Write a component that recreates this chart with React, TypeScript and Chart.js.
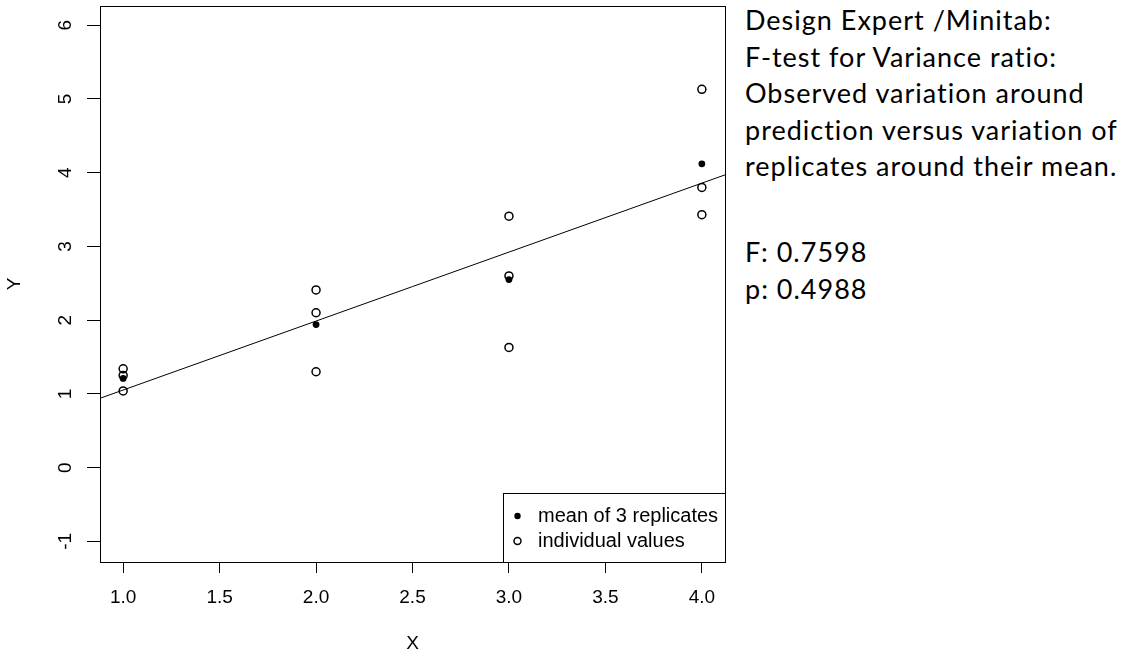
import React, { useEffect, useRef } from "react";
import { Chart, registerables } from "chart.js";

Chart.register(...registerables);

// ---- data ----
const meanX = [1, 2, 3, 4];
const meanY = [1.21, 1.94, 2.55, 4.12];
const indivX = [1, 1, 1, 2, 2, 2, 3, 3, 3, 4, 4, 4];
const indivY = [1.34, 1.25, 1.04, 2.41, 2.1, 1.3, 3.41, 2.6, 1.63, 5.13, 3.8, 3.43];
const fitX = [0.88, 4.12];
const fitY = [0.94, 3.97];
const xTicks = [1.0, 1.5, 2.0, 2.5, 3.0, 3.5, 4.0];
const yTicks = [-1, 0, 1, 2, 3, 4, 5, 6];
const legendLabels = ["mean of 3 replicates", "individual values"];
const noteLines = [
  "Design Expert /Minitab:",
  "F-test for Variance ratio:",
  "Observed variation around",
  "prediction versus variation of",
  "replicates around their mean.",
];
const statLines = ["F: 0.7598", "p: 0.4988"];

const AXIS_FONT = "Liberation Sans, Arial, sans-serif";
const AXIS_SIZE = 19;
const LEGEND_SIZE = 20;

const boxPlugin = {
  id: "rbox",
  afterDraw(chart: any) {
    const { ctx, chartArea } = chart;
    const { left, top, right, bottom } = chartArea;
    ctx.save();
    ctx.strokeStyle = "#000";
    ctx.lineWidth = 1;
    ctx.strokeRect(left + 0.5, top + 0.5, right - left, bottom - top);

    // rotated y tick labels (R style, parallel to axis)
    const yScale = chart.scales.y;
    ctx.fillStyle = "#000";
    ctx.font = `${AXIS_SIZE}px ${AXIS_FONT}`;
    ctx.textAlign = "center";
    ctx.textBaseline = "middle";
    yTicks.forEach((v) => {
      const py = yScale.getPixelForValue(v);
      ctx.save();
      ctx.translate(left - 34, py);
      ctx.rotate(-Math.PI / 2);
      ctx.fillText(String(v), 0, 0);
      ctx.restore();
    });

    // legend box, bottom-right of plot region
    const lw = 222;
    const lh = 69;
    const lx = right - lw;
    const ly = bottom - lh;
    ctx.fillStyle = "#fff";
    ctx.fillRect(lx, ly, lw, lh);
    ctx.strokeStyle = "#000";
    ctx.strokeRect(lx + 0.5, ly + 0.5, lw, lh);
    const rows = [ly + 23, ly + 48];
    ctx.fillStyle = "#000";
    ctx.beginPath();
    ctx.arc(lx + 14.5, rows[0], 3.2, 0, Math.PI * 2);
    ctx.fill();
    ctx.lineWidth = 1.5;
    ctx.beginPath();
    ctx.arc(lx + 14.5, rows[1], 3.5, 0, Math.PI * 2);
    ctx.stroke();
    ctx.textAlign = "left";
    ctx.textBaseline = "middle";
    ctx.font = `${LEGEND_SIZE}px ${AXIS_FONT}`;
    legendLabels.forEach((t, i) => ctx.fillText(t, lx + 35, rows[i]));
    ctx.restore();
  },
};

export default function App() {
  const ref = useRef<HTMLCanvasElement | null>(null);

  useEffect(() => {
    if (!ref.current) return;
    const chart = new Chart(ref.current, {
      type: "scatter",
      data: {
        datasets: [
          {
            label: "fit",
            data: fitX.map((x, i) => ({ x, y: fitY[i] })),
            showLine: true,
            pointRadius: 0,
            borderColor: "#000",
            borderWidth: 1,
            fill: false,
          },
          {
            label: legendLabels[1],
            data: indivX.map((x, i) => ({ x, y: indivY[i] })),
            pointRadius: 4,
            pointBorderWidth: 1.5,
            pointBorderColor: "#000",
            pointBackgroundColor: "rgba(0,0,0,0)",
            borderColor: "#000",
            backgroundColor: "rgba(0,0,0,0)",
          },
          {
            label: legendLabels[0],
            data: meanX.map((x, i) => ({ x, y: meanY[i] })),
            pointRadius: 3.4,
            pointBorderWidth: 0,
            pointBackgroundColor: "#000",
            backgroundColor: "#000",
            borderColor: "#000",
          },
        ],
      },
      options: {
        responsive: false,
        animation: false,
        events: [],
        layout: { padding: { top: 6, right: 10, left: 0, bottom: 0 } },
        plugins: { legend: { display: false }, tooltip: { enabled: false } },
        scales: {
          x: {
            type: "linear",
            min: 0.88,
            max: 4.12,
            afterBuildTicks: (s: any) => {
              s.ticks = xTicks.map((v) => ({ value: v }));
            },
            afterFit: (s: any) => {
              s.height = 93;
            },
            ticks: {
              autoSkip: false,
              maxRotation: 0,
              padding: 13,
              color: "#000",
              font: { family: AXIS_FONT, size: AXIS_SIZE },
              callback: (v: any) => Number(v).toFixed(1),
            },
            grid: {
              drawOnChartArea: false,
              drawTicks: true,
              tickLength: 11,
              color: "#000",
              lineWidth: 1,
            },
            border: { display: false },
            title: {
              display: true,
              text: "X",
              color: "#000",
              font: { family: AXIS_FONT, size: AXIS_SIZE },
              padding: { top: 0, bottom: 0 },
            },
          },
          y: {
            type: "linear",
            min: -1.28,
            max: 6.26,
            afterBuildTicks: (s: any) => {
              s.ticks = yTicks.map((v) => ({ value: v }));
            },
            afterFit: (s: any) => {
              s.width = 100;
            },
            ticks: { display: false },
            grid: {
              drawOnChartArea: false,
              drawTicks: true,
              tickLength: 13,
              color: "#000",
              lineWidth: 1,
            },
            border: { display: false },
            title: {
              display: true,
              text: "Y",
              color: "#000",
              font: { family: AXIS_FONT, size: AXIS_SIZE },
              padding: { top: 3, bottom: 0 },
            },
          },
        },
      },
      plugins: [boxPlugin],
    });
    return () => chart.destroy();
  }, []);

  const textStyle: React.CSSProperties = {
    position: "absolute",
    left: 745,
    fontFamily: "Lato, 'Open Sans', sans-serif",
    fontSize: 27,
    letterSpacing: "1px",
    lineHeight: "36.5px",
    color: "#000",
    whiteSpace: "nowrap",
  };

  return (
    <div
      style={{
        position: "fixed",
        left: 0,
        top: 0,
        width: 1129,
        height: 655,
        background: "#fff",
        overflow: "hidden",
      }}
    >
      <canvas
        ref={ref}
        width={735}
        height={655}
        style={{ position: "absolute", left: 0, top: 0, width: 735, height: 655 }}
      />
      <div style={{ ...textStyle, top: 2 }}>
        {noteLines.map((t, i) => (
          <div key={i}>{t}</div>
        ))}
      </div>
      <div style={{ ...textStyle, top: 234 }}>
        {statLines.map((t, i) => (
          <div key={i}>{t}</div>
        ))}
      </div>
    </div>
  );
}
